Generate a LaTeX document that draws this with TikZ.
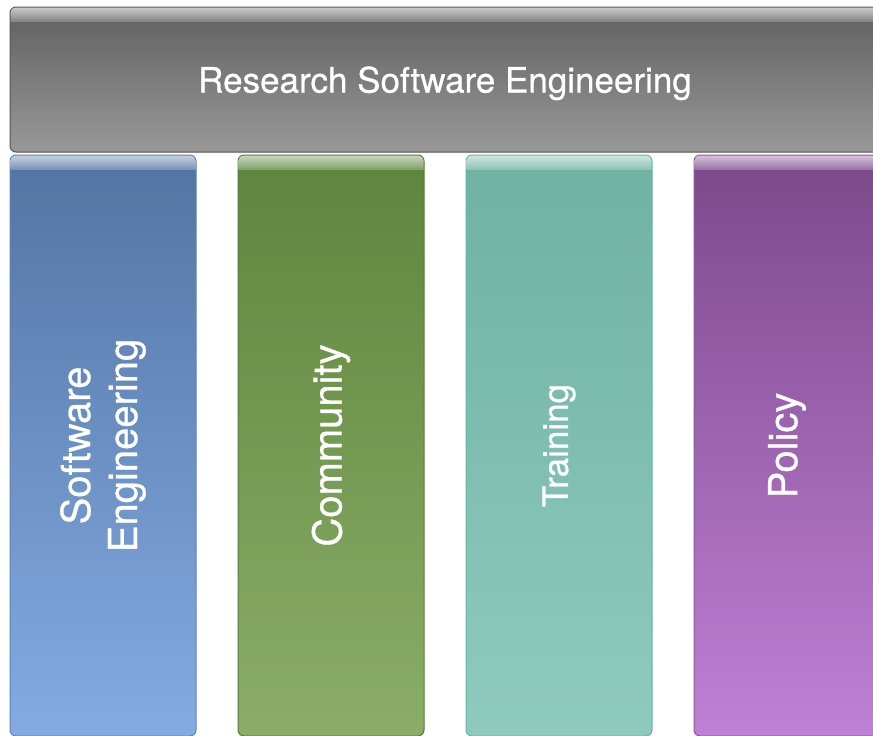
\documentclass[tikz,border=0pt]{standalone}
\usepackage{fontspec}
\setmainfont[FakeBold=0.7]{TeX Gyre Heros}
\usetikzlibrary{positioning,calc}
\definecolor{grayi}{RGB}{96,96,96}
\definecolor{grayii}{RGB}{152,152,152}
\definecolor{grayd}{RGB}{85,85,85}
\definecolor{bluei}{RGB}{82,116,163}
\definecolor{blueii}{RGB}{132,172,226}
\definecolor{blued}{RGB}{95,128,178}
\definecolor{greeni}{RGB}{94,133,61}
\definecolor{greenii}{RGB}{138,174,103}
\definecolor{greend}{RGB}{88,118,68}
\definecolor{teali}{RGB}{111,177,162}
\definecolor{tealii}{RGB}{142,203,190}
\definecolor{teald}{RGB}{104,180,164}
\definecolor{purplei}{RGB}{124,73,140}
\definecolor{purpleii}{RGB}{192,128,213}
\definecolor{purpled}{RGB}{138,90,154}
\tikzset{
          banner/.style={
            rectangle,rounded corners=6pt,line width=1pt,
            minimum width=870pt,minimum height=145pt,text depth=0pt,
            draw=grayd,top color=grayi,bottom color=grayii,
            text=white,font=\fontsize{35}{42}\selectfont
          },
          pillar/.style={
            rectangle,rounded corners=6pt,line width=1pt,
            minimum width=186pt,minimum height=581pt
          },
          pillar blue/.style={pillar,draw=blued,top color=bluei,bottom color=blueii},
          pillar green/.style={pillar,draw=greend,top color=greeni,bottom color=greenii},
          pillar teal/.style={pillar,draw=teald,top color=teali,bottom color=tealii},
          pillar purple/.style={pillar,draw=purpled,top color=purplei,bottom color=purpleii},
          texto/.style={text=white,rotate=90,align=center,font=\fontsize{40}{47}\selectfont}
        }
\newcommand\Gloss[2]{%
          \begin{scope}
            \clip[rounded corners=5pt] ([shift={(1pt,-1pt)}]#1.north west)
              rectangle ([shift={(-1pt,1pt)}]#1.south east);
            \shade[top color=#2!30!white,bottom color=#2!78!white]
              (#1.north west) rectangle ([yshift=-15pt]#1.north east);
          \end{scope}
        }
\begin{document}
\begin{tikzpicture}[node distance =2pt and 41pt,anchor=center]

            \clip (0,0) rectangle (873pt,-736pt);

            \node[banner] (rse) at (445pt,-79.5pt) {Research Software Engineering};
            \Gloss{rse}{grayi}

            \node[pillar blue,anchor=north west] (swe)
              at ([yshift=-2pt]rse.south west) {};
            \node[pillar green,right=of swe] (comm) {};
            \node[pillar teal,right=of comm] (train) {};
            \node[pillar purple,right=of train] (policy) {};

            \Gloss{swe}{bluei} \Gloss{comm}{greeni}
            \Gloss{train}{teali} \Gloss{policy}{purplei}

            \node[texto] (swe-text) at (swe) {Software\\Engineering};
            \node[texto] (comm-text) at (comm) {Community};
            \node[texto,font=\fontsize{35}{42}\selectfont] (train-text) at (train) {Training};
            \node[texto] (policy-text) at (policy) {Policy};

          \end{tikzpicture}
\end{document}
